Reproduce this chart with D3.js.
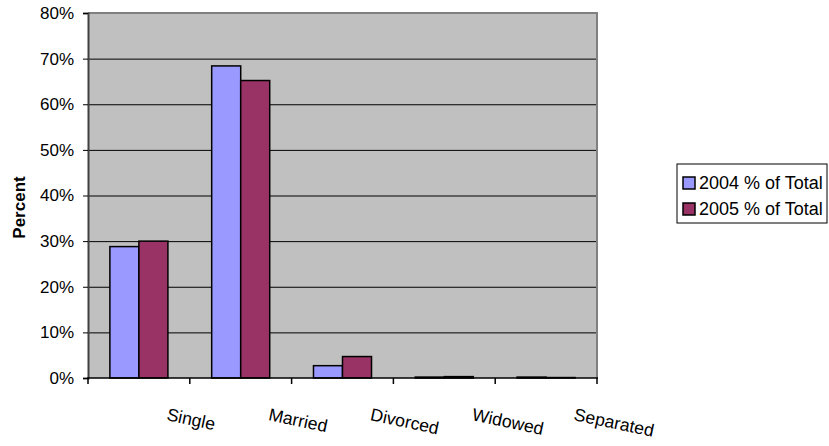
<!DOCTYPE html>
<html>
<head>
<meta charset="utf-8">
<script src="https://cdn.jsdelivr.net/npm/d3@7/dist/d3.min.js"></script>
<style>
  html, body { margin: 0; padding: 0; background: #fff; }
  svg { display: block; font-family: "Liberation Sans", Arial, sans-serif; }
</style>
</head>
<body>
<svg id="chart" width="829" height="446"></svg>
<script>
// Marital status share of total, by year
const categories = ["Single", "Married", "Divorced", "Widowed", "Separated"];
const seriesNames = ["2004 % of Total", "2005 % of Total"];
const values2004 = [28.8, 68.4, 2.7, 0.2, 0.2];
const values2005 = [30.0, 65.2, 4.7, 0.3, 0.1];
const yTicks = [0, 10, 20, 30, 40, 50, 60, 70, 80];
const colors = ["#9999FF", "#993366"];

const series = [values2004, values2005];

const svg = d3.select("#chart");
const plot = { left: 88, top: 13, right: 597, bottom: 378 };

const x = d3.scaleBand()
  .domain(categories)
  .range([plot.left, plot.right])
  .paddingInner(0)
  .paddingOuter(0);

const barW = x.bandwidth() * 0.285;
const xSeries = d3.scaleBand()
  .domain(d3.range(series.length))
  .range([0, barW * 2]);

const y = d3.scaleLinear().domain([0, 80]).range([plot.bottom, plot.top]);

// plot background
svg.append("rect")
  .attr("x", plot.left).attr("y", plot.top)
  .attr("width", plot.right - plot.left)
  .attr("height", plot.bottom - plot.top)
  .attr("fill", "#C0C0C0");

// horizontal gridlines
svg.append("g")
  .selectAll("line")
  .data(yTicks.filter(d => d > 0 && d < 80))
  .join("line")
  .attr("x1", plot.left).attr("x2", plot.right)
  .attr("y1", d => y(d) + 0.5).attr("y2", d => y(d) + 0.5)
  .attr("stroke", "#000").attr("stroke-width", 1);

// plot frame (top and right)
svg.append("path")
  .attr("d", `M${plot.left},${plot.top} H${plot.right} V${plot.bottom}`)
  .attr("fill", "none").attr("stroke", "#808080").attr("stroke-width", 2);

// bars
const groups = svg.append("g")
  .selectAll("g")
  .data(categories)
  .join("g")
  .attr("transform", c => `translate(${x(c) + (x.bandwidth() - barW * 2) / 2},0)`);

groups.selectAll("rect")
  .data((c, i) => series.map((s, k) => ({ k, v: s[i] })))
  .join("rect")
  .attr("x", d => xSeries(d.k))
  .attr("width", xSeries.bandwidth())
  .attr("y", d => y(d.v))
  .attr("height", d => y(0) - y(d.v))
  .attr("fill", d => colors[d.k])
  .attr("stroke", "#000")
  .attr("stroke-width", 1.5);

// y axis
const yAxis = d3.axisLeft(y)
  .tickValues(yTicks)
  .tickFormat(d => d + "%")
  .tickSize(5)
  .tickPadding(9);
const gy = svg.append("g")
  .attr("transform", `translate(${plot.left},0)`)
  .call(yAxis);
gy.select(".domain").attr("stroke", "#404040").attr("stroke-width", 2);
gy.selectAll(".tick line").attr("stroke", "#000");
gy.selectAll(".tick text")
  .attr("font-size", 17)
  .attr("fill", "#000")
  .attr("font-family", "'Liberation Sans', Arial, sans-serif");

// x axis (ticks at category boundaries)
const boundaries = categories.map(c => x(c)).concat([plot.right]);
svg.append("line")
  .attr("x1", plot.left - 1).attr("x2", plot.right + 1)
  .attr("y1", plot.bottom).attr("y2", plot.bottom)
  .attr("stroke", "#000").attr("stroke-width", 1.5);
svg.append("g")
  .selectAll("line")
  .data(boundaries)
  .join("line")
  .attr("x1", d => d).attr("x2", d => d)
  .attr("y1", plot.bottom).attr("y2", plot.bottom + 6)
  .attr("stroke", "#000").attr("stroke-width", 1.5);

// slanted category labels
svg.append("g")
  .selectAll("text")
  .data(categories)
  .join("text")
  .attr("transform", c => `translate(${x(c) + x.bandwidth() * 0.765},${420}) rotate(12)`)
  .attr("text-anchor", "start")
  .attr("font-size", 17.6)
  .attr("fill", "#000")
  .text(c => c);

// y axis title
svg.append("text")
  .attr("transform", `translate(25,${(plot.top + plot.bottom) / 2 + 12}) rotate(-90)`)
  .attr("text-anchor", "middle")
  .attr("font-size", 17)
  .attr("font-weight", "bold")
  .text("Percent");

// legend
const legend = svg.append("g").attr("transform", "translate(677,164)");
legend.append("rect")
  .attr("x", 0).attr("y", 0).attr("width", 150).attr("height", 59)
  .attr("fill", "#fff").attr("stroke", "#000").attr("stroke-width", 1);
const items = legend.selectAll("g")
  .data(seriesNames)
  .join("g")
  .attr("transform", (d, i) => `translate(6,${13 + i * 26})`);
items.append("rect")
  .attr("width", 12).attr("height", 12)
  .attr("fill", (d, i) => colors[i])
  .attr("stroke", "#000").attr("stroke-width", 1.5);
items.append("text")
  .attr("x", 16).attr("y", 12)
  .attr("font-size", 18)
  .text(d => d);
</script>
</body>
</html>
